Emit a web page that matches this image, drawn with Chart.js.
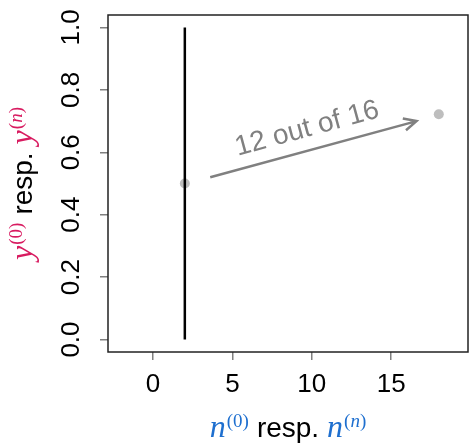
<!DOCTYPE html>
<html lang="en">
<head>
  <meta charset="UTF-8">
  <title>Binomial update</title>
  <script src="https://cdn.jsdelivr.net/npm/chart.js"></script>
  <style>
    html, body {
      margin: 0;
      padding: 0;
      background-color: #fff;
    }

    .chart-box {
      width: 469px;
      height: 444px;
    }
  </style>
</head>
<body>

  <div class="chart-box">
    <canvas id="updateChart" width="469" height="444"></canvas>
  </div>

  <script>
    // prior sample size and the vertical bar spanning all y values
    const barX = [2, 2];
    const barY = [0, 1];

    // prior point and posterior point (n, y)
    const pointX = [2, 18];
    const pointY = [0.5, 0.722];

    // arrow from prior towards posterior, with its label
    const arrowFrom = [3.6, 0.52];
    const arrowTo = [16.6, 0.70];
    const arrowLabel = "12 out of 16";
    const arrowLabelAt = [9.7, 0.675];

    // axis ranges and ticks
    const xRange = [-2.84, 19.84];
    const yRange = [-0.04, 1.04];
    const xTicks = [0, 5, 10, 15];
    const yTicks = [0, 0.2, 0.4, 0.6, 0.8, 1.0];

    const PINK = "#d81b60";
    const BLUE = "#1e6fcf";
    const GREY = "#808080";
    const SANS = "'Liberation Sans', Arial, sans-serif";
    const SERIF = "'Liberation Serif', 'DejaVu Serif', serif";

    // mixed text: runs of {t, font, color, dy, gap}
    function drawRuns(ctx, runs, cx, baseY, rot) {
      ctx.save();
      ctx.translate(cx, baseY);
      ctx.rotate(rot);
      let total = 0;
      runs.forEach(r => { ctx.font = r.font; total += ctx.measureText(r.t).width + (r.gap || 0); });
      let x = -total / 2;
      ctx.textBaseline = "alphabetic";
      ctx.textAlign = "left";
      runs.forEach(r => {
        ctx.font = r.font;
        ctx.fillStyle = r.color;
        ctx.fillText(r.t, x, r.dy || 0);
        x += ctx.measureText(r.t).width + (r.gap || 0);
      });
      ctx.restore();
    }

    function titleRuns(sym) {
      const color = sym === "y" ? PINK : BLUE;
      const big = "italic 32px " + SERIF;
      const sup = "19px " + SERIF;
      return [
        { t: sym, font: big, color, gap: 1 },
        { t: "(0)", font: sup, color, dy: -10, gap: 8 },
        { t: "resp.", font: "28px " + SANS, color: "#000", gap: 8 },
        { t: sym, font: big, color, gap: 1 },
        { t: "(", font: sup, color, dy: -10 },
        { t: "n", font: "italic 19px " + SERIF, color, dy: -10 },
        { t: ")", font: sup, color, dy: -10 }
      ];
    }

    const decorPlugin = {
      id: "decor",
      afterDatasetsDraw(chart) {
        const { ctx, chartArea, scales } = chart;
        const xs = scales.x, ys = scales.y;

        // plot box
        ctx.save();
        ctx.strokeStyle = "#222";
        ctx.lineWidth = 1.5;
        ctx.strokeRect(chartArea.left, chartArea.top,
          chartArea.right - chartArea.left, chartArea.bottom - chartArea.top);

        // arrow
        const x0 = xs.getPixelForValue(arrowFrom[0]), y0 = ys.getPixelForValue(arrowFrom[1]);
        const x1 = xs.getPixelForValue(arrowTo[0]), y1 = ys.getPixelForValue(arrowTo[1]);
        const ang = Math.atan2(y1 - y0, x1 - x0);
        ctx.strokeStyle = GREY;
        ctx.lineWidth = 2.5;
        ctx.beginPath();
        ctx.moveTo(x0, y0);
        ctx.lineTo(x1, y1);
        ctx.moveTo(x1 - 14 * Math.cos(ang - 0.45), y1 - 14 * Math.sin(ang - 0.45));
        ctx.lineTo(x1, y1);
        ctx.lineTo(x1 - 14 * Math.cos(ang + 0.45), y1 - 14 * Math.sin(ang + 0.45));
        ctx.stroke();

        // arrow label
        ctx.translate(xs.getPixelForValue(arrowLabelAt[0]), ys.getPixelForValue(arrowLabelAt[1]));
        ctx.rotate(ang);
        ctx.font = "28px " + SANS;
        ctx.fillStyle = GREY;
        ctx.textAlign = "center";
        ctx.textBaseline = "middle";
        ctx.fillText(arrowLabel, 0, 0);
        ctx.restore();

        // axis titles
        const midX = (chartArea.left + chartArea.right) / 2;
        const midY = (chartArea.top + chartArea.bottom) / 2;
        drawRuns(ctx, titleRuns("n"), midX, 437, 0);
        drawRuns(ctx, titleRuns("y"), 32, midY, -Math.PI / 2);
      }
    };

    const tickFont = { family: SANS, size: 26 };

    new Chart(document.getElementById("updateChart"), {
      type: "scatter",
      data: {
        datasets: [
          {
            data: barX.map((x, i) => ({ x, y: barY[i] })),
            showLine: true,
            borderColor: "#000",
            borderWidth: 2.5,
            pointRadius: 0
          },
          {
            data: pointX.map((x, i) => ({ x, y: pointY[i] })),
            showLine: false,
            backgroundColor: "#bebebe",
            borderColor: "#bebebe",
            pointRadius: 5,
            borderWidth: 0
          }
        ]
      },
      options: {
        responsive: false,
        animation: false,
        layout: { autoPadding: false, padding: { top: 15, right: 1, left: 0, bottom: 0 } },
        plugins: {
          legend: { display: false },
          tooltip: { enabled: false }
        },
        scales: {
          x: {
            type: "linear",
            min: xRange[0],
            max: xRange[1],
            afterFit: s => {
              s.height = 92;
              s.paddingLeft = 0; s.paddingRight = 0;
            },
            afterBuildTicks: s => { s.ticks = xTicks.map(v => ({ value: v })); },
            border: { display: false },
            grid: { drawOnChartArea: false, tickLength: 8, color: GREY, lineWidth: 1.5 },
            ticks: {
              font: tickFont,
              color: "#000",
              padding: 9,
              maxRotation: 0,
              callback: v => String(v)
            }
          },
          y: {
            type: "linear",
            min: yRange[0],
            max: yRange[1],
            afterFit: s => {
              s.width = 108;
              s.paddingTop = 0; s.paddingBottom = 0;
            },
            afterBuildTicks: s => { s.ticks = yTicks.map(v => ({ value: v })); },
            border: { display: false },
            grid: { drawOnChartArea: false, tickLength: 8, color: GREY, lineWidth: 1.5 },
            ticks: {
              font: tickFont,
              color: "#000",
              padding: 10,
              minRotation: 90,
              maxRotation: 90,
              crossAlign: "center",
              callback: v => v.toFixed(1)
            }
          }
        }
      },
      plugins: [decorPlugin]
    });
  </script>
</body>
</html>
